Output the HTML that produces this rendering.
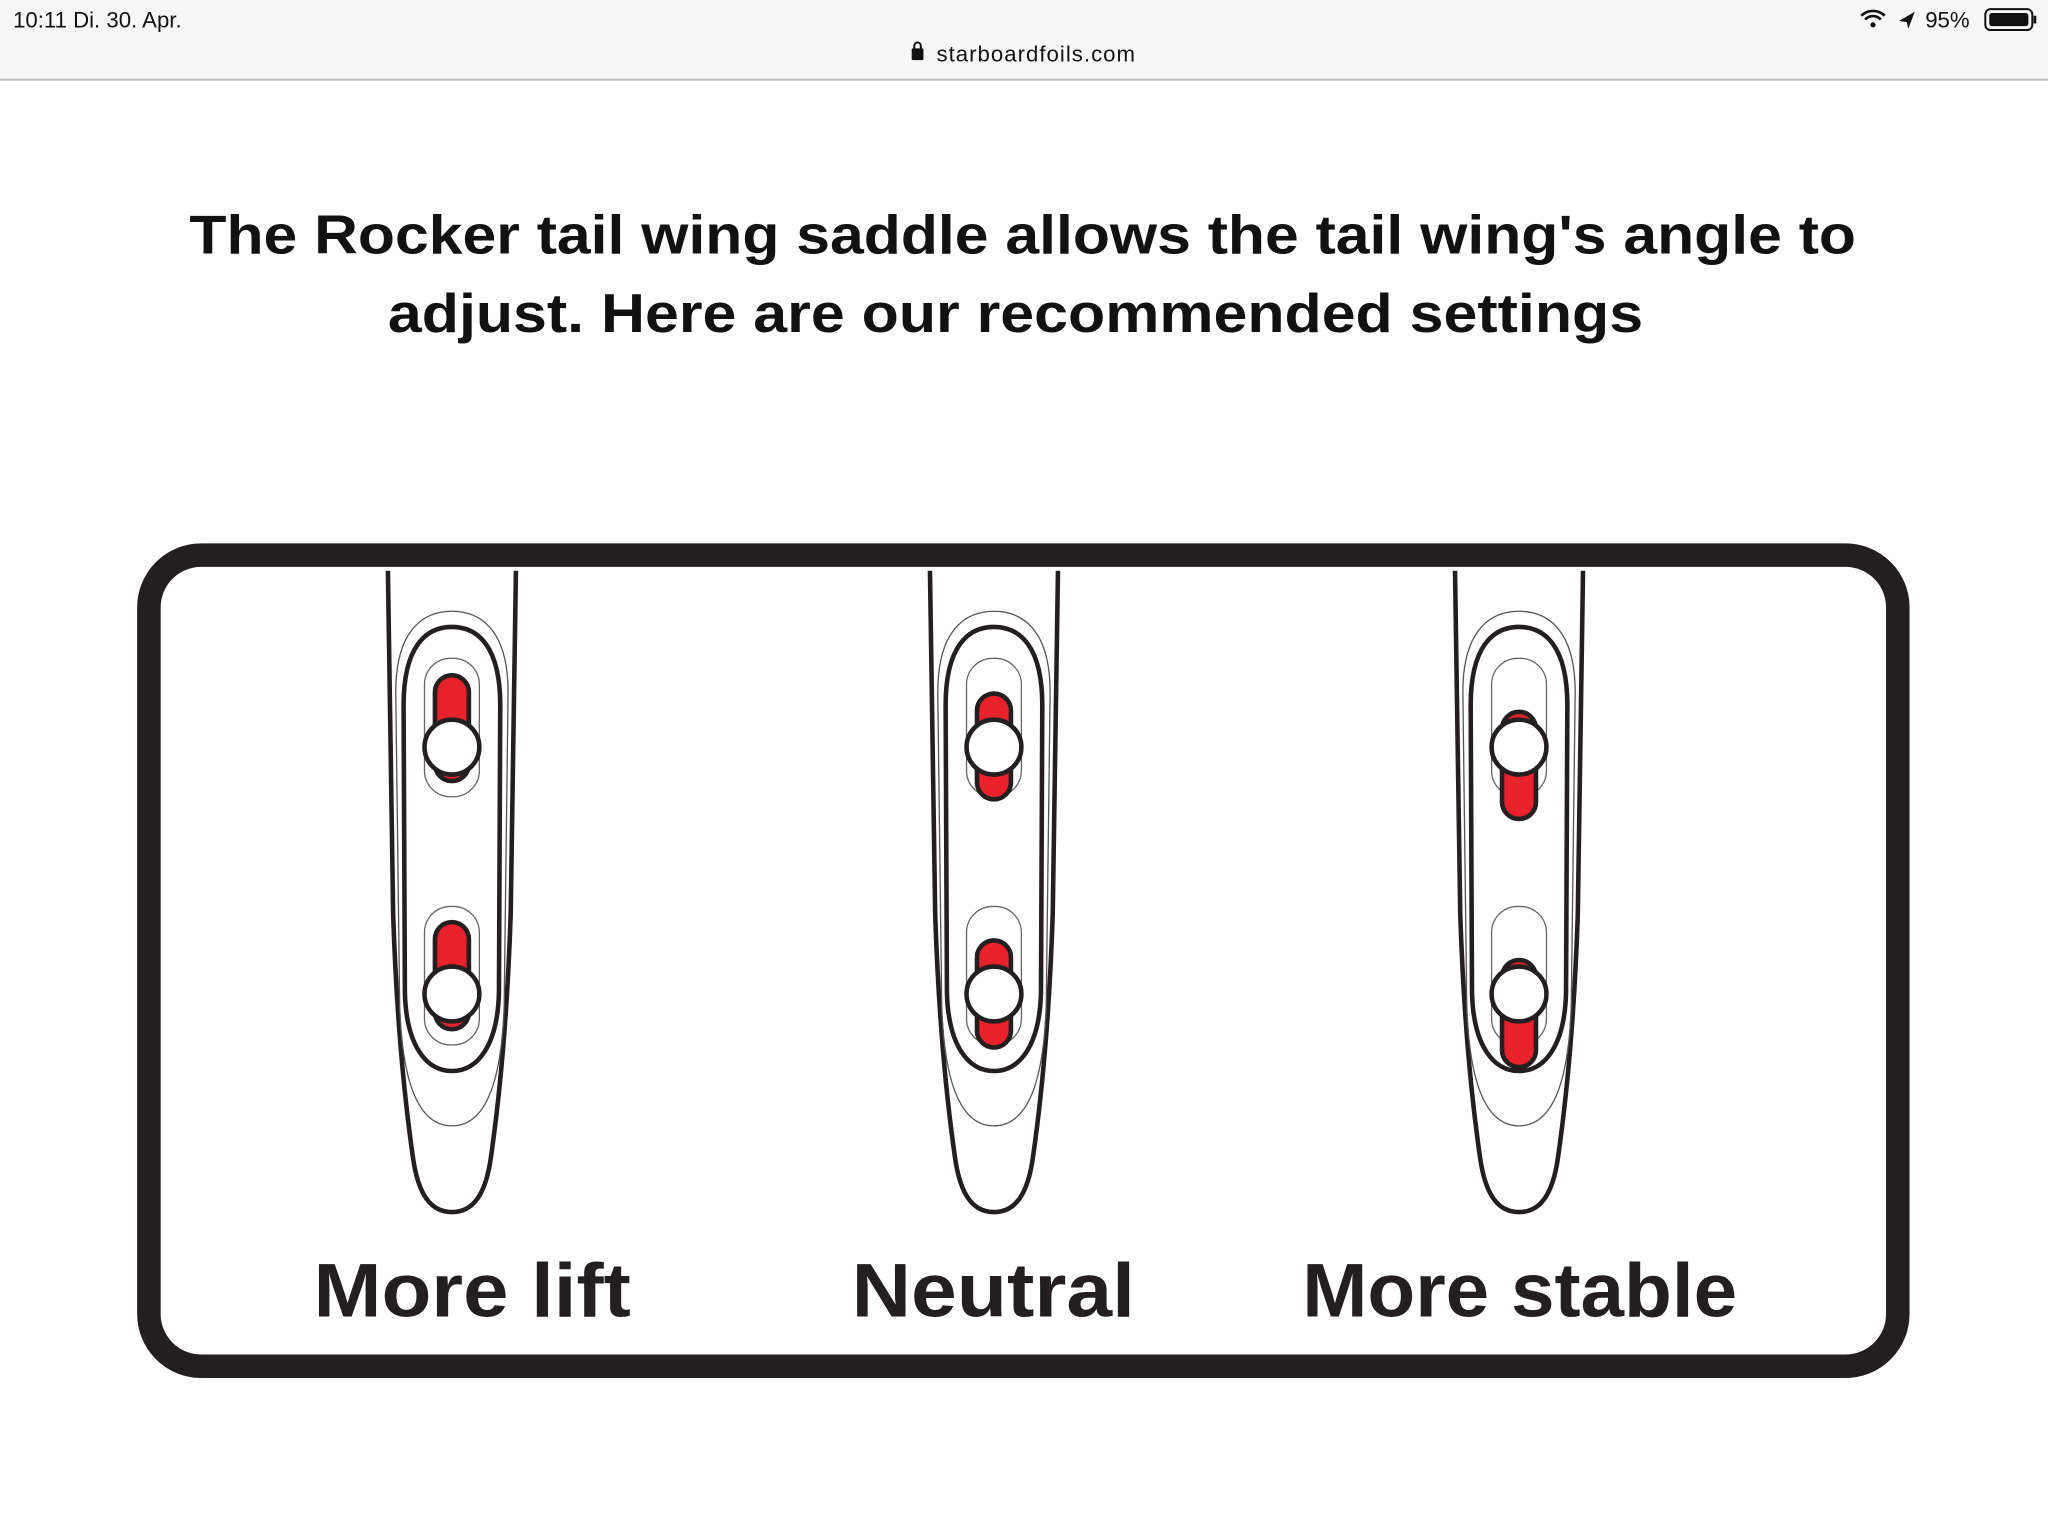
<!DOCTYPE html>
<html><head><meta charset="utf-8"><style>html,body{margin:0;padding:0;background:#fff}svg{display:block}</style></head><body>
<svg width="2048" height="1536" viewBox="0 0 1568 1176" xmlns="http://www.w3.org/2000/svg">
<rect width="1568" height="1176" fill="#fff"/>
<rect width="1568" height="61" fill="#f7f7f7"/>
<line x1="0" y1="61" x2="1568" y2="61" stroke="#bbb" stroke-width="1.5"/>
<g font-family="Liberation Sans, sans-serif" fill="#111">
<text x="10" y="21" font-size="17">10:11   Di. 30. Apr.</text>
<text x="717" y="47" font-size="17" textLength="152">starboardfoils.com</text>
<rect x="698" y="37" width="9" height="9" rx="1"/><path d="M700 38v-3a2.5 2.5 0 0 1 5 0v3" fill="none" stroke="#111" stroke-width="1.5"/>
<text x="1474" y="21" font-size="17">95%</text>
<path d="M1425 12a13 13 0 0 1 18 0M1428 15a8 8 0 0 1 12 0" stroke="#111" stroke-width="2" fill="none"/><circle cx="1434" cy="19" r="2"/>
<path d="M1454 16l12-7-5 13-1-5z"/>
<rect x="1520" y="7" width="36" height="16" rx="4" fill="none" stroke="#111" stroke-width="1.5"/>
<rect x="1523" y="10" width="30" height="10" rx="2"/>
<rect x="1557" y="12" width="2" height="6"/>
</g>
<g font-family="Liberation Sans, DejaVu Sans, sans-serif" font-weight="bold" fill="#111" font-size="42">
<text x="145" y="194" textLength="1276" lengthAdjust="spacingAndGlyphs">The Rocker tail wing saddle allows the tail wing's angle to</text>
<text x="297" y="254" textLength="961" lengthAdjust="spacingAndGlyphs">adjust. Here are our recommended settings</text>
</g>
<rect x="114" y="425" width="1339" height="621" rx="40" fill="none" stroke="#231f20" stroke-width="18"/>
<defs>
<g id="body">
<path d="M-49 437 L-45 700 C-42 790 -35 850 -30 885 C-26 915 -16 928 0 928 C16 928 26 915 30 885 C35 850 42 790 45 700 L49 437" fill="none" stroke="#231f20" stroke-width="3.5"/>
<path d="M-43 530 C-43 480 -20 468 0 468 C20 468 43 480 43 530 L40 770 C38 830 25 862 0 862 C-25 862 -38 830 -40 770 Z" fill="none" stroke="#555" stroke-width="1"/>
<path d="M-37 540 C-37 495 -20 480 0 480 C20 480 37 495 37 540 L36 760 C35 800 20 820 0 820 C-20 820 -35 800 -36 760 Z" fill="none" stroke="#231f20" stroke-width="3.5"/>
<rect x="-21" y="504" width="42" height="106" rx="20" fill="none" stroke="#666" stroke-width="1"/>
<rect x="-21" y="694" width="42" height="106" rx="20" fill="none" stroke="#666" stroke-width="1"/>
</g>
</defs>
<g stroke="#231f20" stroke-width="3.5">
<g transform="translate(346 0)"><use href="#body"/>
<rect x="-13" y="517" width="26" height="81" rx="13" fill="#e8212a"/><circle cx="0" cy="572" r="21" fill="#fff"/>
<rect x="-13" y="706" width="26" height="82" rx="13" fill="#e8212a"/><circle cx="0" cy="761" r="21" fill="#fff"/></g>
<g transform="translate(761 0)"><use href="#body"/>
<rect x="-13" y="531" width="26" height="81" rx="13" fill="#e8212a"/><circle cx="0" cy="572" r="21" fill="#fff"/>
<rect x="-13" y="720" width="26" height="82" rx="13" fill="#e8212a"/><circle cx="0" cy="761" r="21" fill="#fff"/></g>
<g transform="translate(1163 0)"><use href="#body"/>
<rect x="-13" y="545" width="26" height="82" rx="13" fill="#e8212a"/><circle cx="0" cy="572" r="21" fill="#fff"/>
<rect x="-13" y="735" width="26" height="82" rx="13" fill="#e8212a"/><circle cx="0" cy="761" r="21" fill="#fff"/></g>
</g>
<g font-family="Liberation Sans, DejaVu Sans, sans-serif" font-weight="bold" fill="#231f20" font-size="58">
<text x="240" y="1008" textLength="243" lengthAdjust="spacingAndGlyphs">More lift</text>
<text x="652" y="1008" textLength="217" lengthAdjust="spacingAndGlyphs">Neutral</text>
<text x="997" y="1008" textLength="333" lengthAdjust="spacingAndGlyphs">More stable</text>
</g>
</svg>
</body></html>
